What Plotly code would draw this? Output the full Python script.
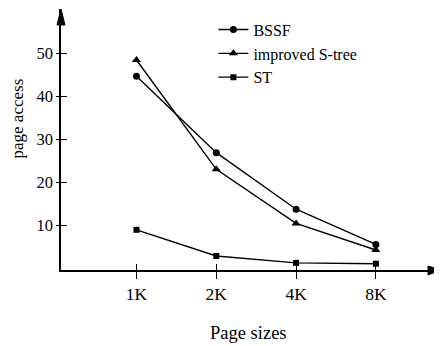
import plotly.graph_objects as go

categories = ["1K", "2K", "4K", "8K"]
bssf = [44.7, 26.9, 13.7, 5.5]
improved_s_tree = [48.5, 23.0, 10.4, 4.2]
st = [8.9, 2.8, 1.2, 1.0]
y_ticks = [10, 20, 30, 40, 50]

FONT = "Liberation Serif, Times New Roman, Times, serif"
BLACK = "#000000"

fig = go.Figure()

series = [
    ("BSSF", bssf, "circle", 7),
    ("improved S-tree", improved_s_tree, "triangle-up", 8),
    ("ST", st, "square", 6),
]
for name, vals, sym, size in series:
    fig.add_trace(go.Scatter(
        x=categories, y=vals, name=name, mode="lines+markers",
        line=dict(color=BLACK, width=1.4),
        marker=dict(symbol=sym, size=size, color=BLACK),
    ))

# invisible trace on overlay axes (for inward tick halves)
fig.add_trace(go.Scatter(x=[0], y=[0], xaxis="x2", yaxis="y2", mode="markers",
                         marker=dict(opacity=0), showlegend=False, hoverinfo="skip"))

xr = [-0.946, 3.816]
yr = [-0.47, 60.4]

# page body has an 8px margin, so the figure is sized/offset to compensate
fig.update_layout(
    width=434, height=338,
    margin=dict(l=53, r=1, t=1, b=76),
    paper_bgcolor="white", plot_bgcolor="white",
    font=dict(family=FONT, size=16, color=BLACK),
    showlegend=True,
    legend=dict(x=0.401, y=0.986, xanchor="left", yanchor="top",
                bgcolor="rgba(0,0,0,0)", font=dict(size=16, family=FONT, color=BLACK),
                tracegroupgap=0, itemwidth=30),
    xaxis=dict(type="category", categoryarray=categories, range=xr,
               showgrid=False, zeroline=False, showline=True, linecolor=BLACK,
               linewidth=1.5, ticks="outside", ticklen=7, tickwidth=1.2,
               tickcolor=BLACK, tickfont=dict(size=17.5, family=FONT, color=BLACK)),
    yaxis=dict(range=yr, tickvals=y_ticks, showgrid=False, zeroline=False,
               showline=True, linecolor=BLACK, linewidth=1.5, ticks="outside",
               ticklen=3, tickwidth=1.2, tickcolor=BLACK,
               tickfont=dict(size=16.5, family=FONT, color=BLACK)),
    xaxis2=dict(overlaying="x", range=[xr[0], xr[1]], tickvals=[0, 1, 2, 3],
                showticklabels=False, showgrid=False, zeroline=False,
                ticks="inside", ticklen=6, tickwidth=1.2, tickcolor=BLACK,
                side="bottom", showline=False),
    yaxis2=dict(overlaying="y", range=yr, tickvals=y_ticks, showticklabels=False,
                showgrid=False, zeroline=False, ticks="inside", ticklen=6,
                tickwidth=1.2, tickcolor=BLACK, side="left", showline=False),
)

# axis arrows
fig.add_shape(type="path", xref="paper", yref="paper",
              path="M 0 1 L -0.0105 0.9387 L 0.0105 0.9387 Z",
              fillcolor=BLACK, line=dict(color=BLACK, width=1))
fig.add_shape(type="path", xref="paper", yref="paper",
              path="M 1 0 L 0.9658 0.0153 L 0.9658 -0.0192 Z",
              fillcolor=BLACK, line=dict(color=BLACK, width=1))

fig.add_annotation(text="page access", xref="paper", yref="paper",
                   x=-0.1395, y=0.5824, textangle=-90, showarrow=False,
                   xanchor="left", yanchor="middle", borderpad=0,
                   font=dict(size=17, family=FONT, color=BLACK))
fig.add_annotation(text="Page sizes", xref="paper", yref="paper",
                   x=0.4947, y=-0.2414, showarrow=False,
                   xanchor="center", yanchor="middle",
                   font=dict(size=18.5, family=FONT, color=BLACK))

fig.write_html("out.html")
